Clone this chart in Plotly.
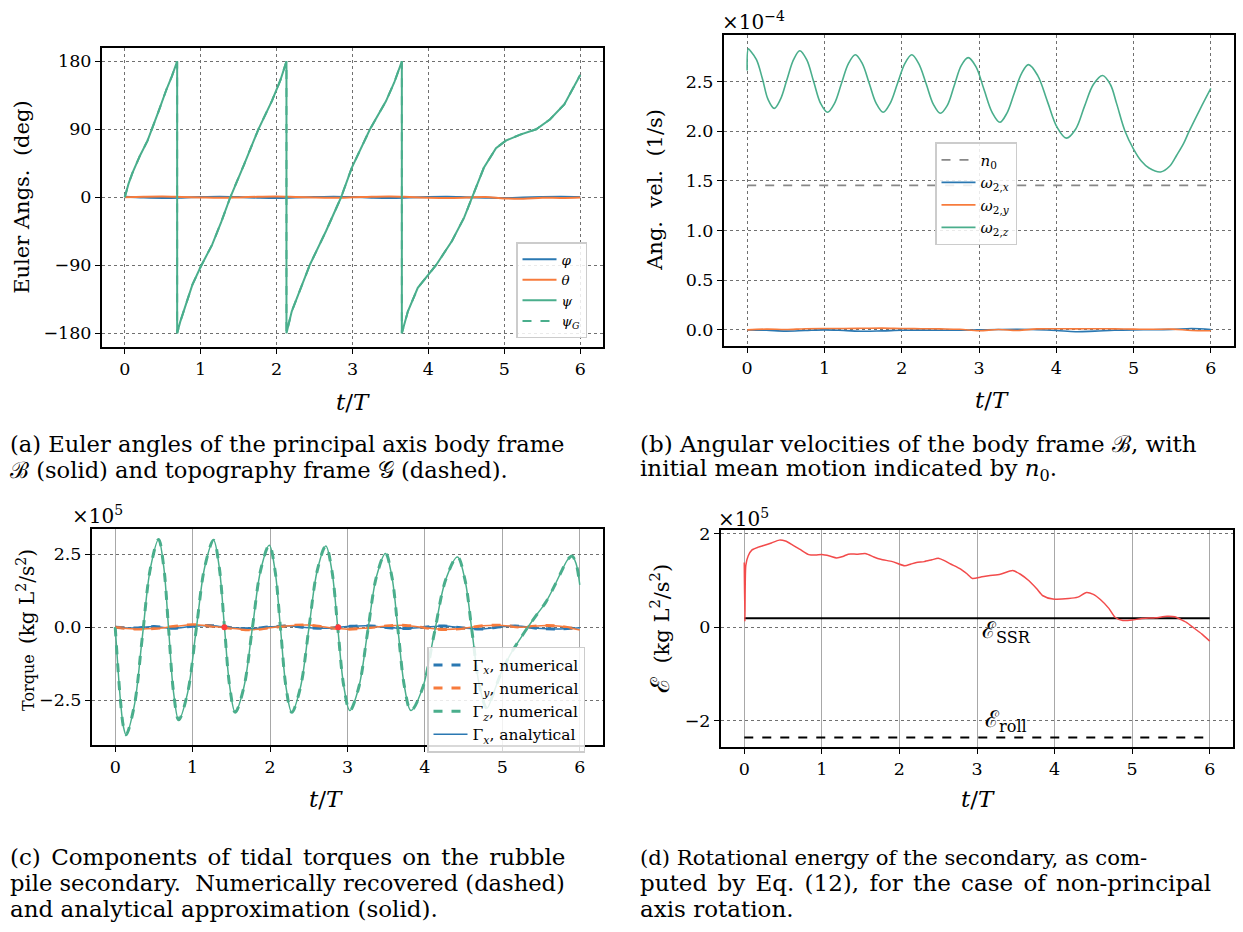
import plotly.graph_objects as go

W, H = 1243, 932
SERIF = "DejaVu Serif"
BLUE = "#2a78b2"
ORANGE = "#f77b3c"
GREEN = "#4aae8c"
RED = "#f24b4b"

# ---------------- (a) Euler angles (deg) ----------------
t_psi = [0, 0.05, 0.1, 0.2, 0.3, 0.36, 0.45, 0.55, 0.62, 0.69,
         0.69, 0.73, 0.78, 0.89, 1.0, 1.15, 1.27, 1.39, 1.57, 1.76, 1.94, 2.05, 2.13,
         2.13, 2.2, 2.34, 2.44, 2.65, 2.85, 2.99, 3.23, 3.44, 3.55, 3.65,
         3.65, 3.73, 3.86, 4.1, 4.31, 4.47, 4.58, 4.73, 4.89, 5.02, 5.21, 5.42, 5.6, 5.79, 6.0]
psi = [0, 18, 32, 55, 75, 90, 115, 143, 160, 180,
       -180, -165, -150, -116, -92, -63, -33, 0, 43, 90, 128, 155, 180,
       -180, -151, -116, -89, -45, 0, 39, 90, 127, 152, 180,
       -180, -151, -120, -90, -58, -27, 0, 39, 65, 75, 83, 90, 103, 123, 162]
psi_G = [0, 18, 32, 55, 75, 90, 115, 143, 160, 180,
         -180, -165, -150, -116, -92, -63, -33, 0, 43, 90, 128, 155, 180,
         -180, -151, -116, -89, -45, 0, 39, 90, 127, 152, 180,
         -180, -151, -120, -90, -58, -27, 0, 39, 65, 75, 83, 90, 103, 123, 162]

t_q = [0, 0.25, 0.5, 0.75, 1.0, 1.25, 1.5, 1.75, 2.0, 2.25, 2.5, 2.75, 3.0,
       3.25, 3.5, 3.75, 4.0, 4.25, 4.5, 4.75, 5.0, 5.25, 5.5, 5.75, 6.0]
phi = [0.6, -0.4, -0.9, -0.5, 0.3, 0.7, 0.2, -0.6, -1.0, -0.4, 0.3, 0.8, 0.3,
       -0.5, -0.9, -0.3, 0.4, 0.7, 0.1, -0.6, -1.0, -0.4, 0.3, 0.6, 0.2]
theta = [0.0, 0.7, 1.0, 0.4, -0.3, -0.8, -0.2, 0.6, 0.9, 0.3, -0.4, -0.7, -0.1,
         0.7, 1.0, 0.3, -0.5, -0.9, -0.4, 0.4, -1.5, -2.0, -0.6, -0.9, -0.3]

# ---------------- (b) angular velocities (x 1e-4 1/s) ----------------
t_wz = [0.0, 0.015, 0.04, 0.12, 0.2, 0.27, 0.35, 0.43, 0.515, 0.6,
        0.68, 0.77, 0.86, 0.95, 1.04, 1.13, 1.22, 1.31, 1.40, 1.49,
        1.58, 1.67, 1.76, 1.85, 1.945, 2.04, 2.13, 2.22, 2.315, 2.41,
        2.50, 2.59, 2.68, 2.77, 2.86, 2.96, 3.065, 3.17, 3.27, 3.36,
        3.455, 3.55, 3.64, 3.76, 3.885, 4.01, 4.13, 4.25, 4.365, 4.48,
        4.60, 4.70, 4.78, 4.89, 5.0, 5.1, 5.2, 5.35, 5.47, 5.56,
        5.65, 5.72, 5.86, 6.0]
w_z = [2.61, 2.83, 2.81, 2.72, 2.52, 2.32, 2.23, 2.32, 2.52, 2.72,
       2.81, 2.72, 2.50, 2.28, 2.19, 2.28, 2.48, 2.68, 2.77, 2.68,
       2.48, 2.28, 2.19, 2.28, 2.48, 2.68, 2.77, 2.68, 2.48, 2.27,
       2.18, 2.26, 2.46, 2.66, 2.74, 2.65, 2.42, 2.19, 2.09, 2.18,
       2.38, 2.58, 2.67, 2.56, 2.30, 2.04, 1.93, 2.02, 2.25, 2.47,
       2.56, 2.47, 2.28, 2.00, 1.82, 1.70, 1.63, 1.59, 1.65, 1.76,
       1.88, 2.00, 2.22, 2.43]
w_x = [0.0, -0.004, -0.012, -0.006, 0.0, -0.006, -0.014, -0.010, -0.004, -0.002, -0.004, -0.003, 0.0,
       0.004, 0.006, 0.002, -0.006, -0.018, -0.012, -0.004, 0.0, 0.002, 0.004, 0.014, 0.004]
w_y = [0.0, 0.008, 0.004, 0.012, 0.014, 0.014, 0.016, 0.018, 0.014, 0.012, 0.010, 0.006, -0.008,
       0.004, -0.006, 0.010, 0.012, 0.010, 0.012, 0.010, 0.008, 0.006, 0.008, -0.006, -0.008]
t_n0 = [0, 6]
n0 = [1.455, 1.455]

# ---------------- (c) tidal torques (x 1e5) ----------------
t_gz = [0, 0.035, 0.07, 0.105, 0.14, 0.245, 0.35, 0.455, 0.56, 0.625,
        0.69, 0.755, 0.82, 0.9325, 1.045, 1.1575, 1.27, 1.34, 1.41, 1.48,
        1.55, 1.66, 1.77, 1.88, 1.99, 2.0625, 2.135, 2.2075, 2.28, 2.39,
        2.50, 2.61, 2.72, 2.7975, 2.875, 2.9525, 3.03, 3.145, 3.26, 3.375,
        3.49, 3.5725, 3.655, 3.7375, 3.82, 3.97, 4.12, 4.27, 4.42, 4.515,
        4.61, 4.705, 4.80, 4.88, 4.98, 5.1, 5.23, 5.33, 5.45, 5.56,
        5.67, 5.77, 5.84, 5.9, 5.95, 6.0]
g_z = [0, -1.4, -2.6, -3.4, -3.69, -2.71, -0.34, 2.03, 3.01, 2.10,
       -0.085, -2.27, -3.18, -2.28, -0.10, 2.08, 2.98, 2.12, 0.03, -2.06,
       -2.92, -2.08, -0.055, 1.97, 2.81, 1.97, -0.055, -2.08, -2.92, -2.09,
       -0.07, 1.95, 2.78, 1.95, -0.04, -2.03, -2.86, -2.07, -0.165, 1.74,
       2.53, 1.74, -0.165, -2.07, -2.86, -2.09, -0.225, 1.64, 2.41, 1.65,
       -0.185, -2.02, -2.78, -2.3, -1.6, -0.95, -0.4, 0.0, 0.45, 0.85,
       1.4, 1.95, 2.3, 2.44, 2.2, 1.45]
g_x = [0.0, -0.03, 0.02, -0.04, 0.03, 0.05, -0.02, -0.05, 0.01, 0.04, -0.02, -0.04, 0.02,
       0.05, -0.01, -0.05, 0.0, 0.04, -0.03, -0.06, 0.02, 0.03, -0.05, -0.06, -0.02]
g_y = [0.0, -0.06, -0.05, 0.02, 0.08, 0.03, -0.04, -0.09, -0.02, 0.05, 0.07, -0.01, -0.07,
       -0.03, 0.04, 0.06, -0.02, -0.08, -0.04, 0.05, 0.06, 0.0, 0.05, 0.03, -0.10]
t_dots = [1.41, 2.88]
g_dots = [0.0, 0.0]

# ---------------- (d) rotational energy (x 1e5) ----------------
t_E = [0, 0.008, 0.02, 0.05, 0.1, 0.18, 0.26, 0.35, 0.45, 0.53,
       0.62, 0.72, 0.83, 0.92, 1.0, 1.1, 1.19, 1.27, 1.34, 1.45,
       1.57, 1.67, 1.76, 1.91, 2.07, 2.15, 2.22, 2.32, 2.42, 2.50,
       2.58, 2.66, 2.79, 2.87, 2.94, 3.05, 3.15, 3.30, 3.46, 3.56,
       3.67, 3.77, 3.85, 3.98, 4.18, 4.30, 4.41, 4.50, 4.59, 4.70,
       4.78, 4.88, 5.0, 5.11, 5.30, 5.45, 5.55, 5.63, 5.70, 5.78,
       5.9, 6.0]
E = [1.38, 0.12, 1.32, 1.52, 1.65, 1.71, 1.75, 1.80, 1.86, 1.84,
     1.76, 1.66, 1.55, 1.54, 1.55, 1.52, 1.48, 1.51, 1.56, 1.56,
     1.57, 1.50, 1.45, 1.40, 1.31, 1.35, 1.38, 1.40, 1.44, 1.47,
     1.42, 1.35, 1.24, 1.14, 1.04, 1.07, 1.10, 1.13, 1.21, 1.13,
     0.99, 0.82, 0.67, 0.60, 0.61, 0.64, 0.74, 0.70, 0.59, 0.40,
     0.21, 0.14, 0.15, 0.18, 0.20, 0.23, 0.22, 0.16, 0.10, 0.0,
     -0.15, -0.30]
t_lim = [0, 6]
E_SSR = [0.19, 0.19]
E_roll = [-2.36, -2.36]


def X(p):
    return p / W


def Y(p):
    return 1 - p / H


fig = go.Figure()

# (a)
fig.add_trace(go.Scatter(x=t_q, y=phi, mode="lines", line=dict(color=BLUE, width=2),
                         name="<i>φ</i>", legend="legend", xaxis="x", yaxis="y", line_shape="spline"))
fig.add_trace(go.Scatter(x=t_q, y=theta, mode="lines", line=dict(color=ORANGE, width=2),
                         name="<i>θ</i>", legend="legend", xaxis="x", yaxis="y", line_shape="spline"))
fig.add_trace(go.Scatter(x=t_psi, y=psi, mode="lines", line=dict(color=GREEN, width=2),
                         name="<i>ψ</i>", legend="legend", xaxis="x", yaxis="y"))
fig.add_trace(go.Scatter(x=t_psi, y=psi_G, mode="lines", line=dict(color=GREEN, width=2, dash="dash"),
                         name="<i>ψ</i><sub><i>G</i></sub>", legend="legend", xaxis="x", yaxis="y"))

# (b)
fig.add_trace(go.Scatter(x=t_n0, y=n0, mode="lines", line=dict(color="#888888", width=1.6, dash="dash"),
                         name="<i>n</i><sub>0</sub>", legend="legend2", xaxis="x2", yaxis="y2"))
fig.add_trace(go.Scatter(x=t_q, y=w_x, mode="lines", line=dict(color=BLUE, width=1.6), line_shape="spline",
                         name="<i>ω</i><sub>2,<i>x</i></sub>", legend="legend2", xaxis="x2", yaxis="y2"))
fig.add_trace(go.Scatter(x=t_q, y=w_y, mode="lines", line=dict(color=ORANGE, width=1.6), line_shape="spline",
                         name="<i>ω</i><sub>2,<i>y</i></sub>", legend="legend2", xaxis="x2", yaxis="y2"))
fig.add_trace(go.Scatter(x=t_wz, y=w_z, mode="lines", line=dict(color=GREEN, width=1.6), line_shape="spline",
                         name="<i>ω</i><sub>2,<i>z</i></sub>", legend="legend2", xaxis="x2", yaxis="y2"))

# (c)
fig.add_trace(go.Scatter(x=t_q, y=g_x, mode="lines", line=dict(color=BLUE, width=3, dash="dash"), line_shape="spline",
                         name="Γ<sub><i>x</i></sub>, numerical", legend="legend3", xaxis="x3", yaxis="y3"))
fig.add_trace(go.Scatter(x=t_q, y=g_y, mode="lines", line=dict(color=ORANGE, width=3, dash="dash"), line_shape="spline",
                         name="Γ<sub><i>y</i></sub>, numerical", legend="legend3", xaxis="x3", yaxis="y3"))
fig.add_trace(go.Scatter(x=t_gz, y=g_z, mode="lines", line=dict(color=GREEN, width=3, dash="dash"), line_shape="spline",
                         name="Γ<sub><i>z</i></sub>, numerical", legend="legend3", xaxis="x3", yaxis="y3"))
fig.add_trace(go.Scatter(x=t_q, y=g_x, mode="lines", line=dict(color=BLUE, width=1.5), line_shape="spline",
                         name="Γ<sub><i>x</i></sub>, analytical", legend="legend3", xaxis="x3", yaxis="y3"))
fig.add_trace(go.Scatter(x=t_q, y=g_y, mode="lines", line=dict(color=ORANGE, width=1.5), line_shape="spline",
                         showlegend=False, xaxis="x3", yaxis="y3"))
fig.add_trace(go.Scatter(x=t_gz, y=g_z, mode="lines", line=dict(color=GREEN, width=1.5), line_shape="spline",
                         showlegend=False, xaxis="x3", yaxis="y3"))
fig.add_trace(go.Scatter(x=t_dots, y=g_dots, mode="markers", marker=dict(color="#ff3b3b", size=6),
                         showlegend=False, xaxis="x3", yaxis="y3"))

# (d)
fig.add_trace(go.Scatter(x=t_lim, y=E_SSR, mode="lines", line=dict(color="black", width=2),
                         showlegend=False, xaxis="x4", yaxis="y4"))
fig.add_trace(go.Scatter(x=t_lim, y=E_roll, mode="lines", line=dict(color="black", width=2, dash="dash"),
                         showlegend=False, xaxis="x4", yaxis="y4"))
fig.add_trace(go.Scatter(x=t_E, y=E, mode="lines", line=dict(color=RED, width=1.5), line_shape="spline",
                         line_smoothing=0.6, showlegend=False, xaxis="x4", yaxis="y4"))

tickfont = dict(family=SERIF, size=17.5, color="black")
frame = dict(showline=True, mirror=True, linecolor="black", linewidth=2, ticks="outside",
             ticklen=5, tickwidth=1.3, tickcolor="black", zeroline=False, tickfont=tickfont)
xt = dict(tickvals=[0, 1, 2, 3, 4, 5, 6], range=[-0.3, 6.3])
dotgrid = dict(showgrid=True, gridcolor="#707070", gridwidth=1, griddash="dot")
solidgrid = dict(showgrid=True, gridcolor="#a8a8a8", gridwidth=1)
legstyle = dict(xanchor="left", yanchor="top", bgcolor="rgba(255,255,255,0.85)",
                bordercolor="#cccccc", borderwidth=1.5, tracegroupgap=0, itemwidth=34)

fig.update_layout(
    width=W, height=H, margin=dict(l=0, r=0, t=0, b=0),
    paper_bgcolor="white", plot_bgcolor="white",
    font=dict(family=SERIF, color="black"),
    xaxis=dict(domain=[X(102), X(603)], anchor="y", **xt, **frame, **dotgrid),
    yaxis=dict(domain=[Y(343), Y(42)], anchor="x", range=[-198, 198],
               tickvals=[-180, -90, 0, 90, 180], **frame, **dotgrid),
    xaxis2=dict(domain=[X(724), X(1234)], anchor="y2", **xt, **frame, **dotgrid),
    yaxis2=dict(domain=[Y(342), Y(29)], anchor="x2", range=[-0.16, 2.97],
                tickvals=[0, 0.5, 1.0, 1.5, 2.0, 2.5], tickformat=".1f", **frame, **dotgrid),
    xaxis3=dict(domain=[X(92), X(603)], anchor="y3", **xt, **frame, **solidgrid),
    yaxis3=dict(domain=[Y(744), Y(526)], anchor="x3", range=[-4.05, 3.38],
                tickvals=[-2.5, 0, 2.5], tickformat=".1f", **frame, **dotgrid),
    xaxis4=dict(domain=[X(721), X(1233)], anchor="y4", **xt, **frame, **solidgrid),
    yaxis4=dict(domain=[Y(746), Y(527)], anchor="x4", range=[-2.57, 2.085],
                tickvals=[-2, 0, 2], **frame, **dotgrid),
    legend=dict(x=X(516), y=Y(238), font=dict(family=SERIF, size=13.5), **legstyle),
    legend2=dict(x=X(935), y=Y(137), font=dict(family=SERIF, size=15), **legstyle),
    legend3=dict(x=X(427), y=Y(645), font=dict(family=SERIF, size=15.5), **legstyle),
)

ann = []


def text(x, y, s, size, angle=0, xanchor="center"):
    ann.append(dict(x=X(x), y=Y(y), xref="paper", yref="paper", text=s, showarrow=False,
                    font=dict(family=SERIF, size=size, color="black"), textangle=angle,
                    xanchor=xanchor, yanchor="middle"))


# axis titles
for cx, cy in [(353, 399), (992, 397), (326, 798), (978, 798)]:
    text(cx, cy, "<i>t</i>/<i>T</i>", 23)
text(22, 193, "Euler Angs.  (deg)", 21, -90)
text(655, 185, "Ang.  vel.  (1/s)", 21, -90)
text(26, 628, "Torque  <span style='font-size:20px'>(kg L<sup>2</sup>/s<sup>2</sup>)</span>", 16, -90)
text(660, 627, "<span style='font-size:26px'>ℰ</span>  (kg L<sup>2</sup>/s<sup>2</sup>)", 21, -90)

# offset texts
text(720, 15, "×10<sup>−4</sup>", 20, xanchor="left")
text(70, 512, "×10<sup>5</sup>", 20, xanchor="left")
text(716, 515, "×10<sup>5</sup>", 20, xanchor="left")

# energy labels
ann.append(dict(x=3.38, y=-0.1, xref="x4", yref="y4", text="ℰ<sub>SSR</sub>", showarrow=False,
                font=dict(family=SERIF, size=23, color="black"), xanchor="center", yanchor="middle"))
ann.append(dict(x=3.38, y=-2.0, xref="x4", yref="y4", text="ℰ<sub>roll</sub>", showarrow=False,
                font=dict(family=SERIF, size=23, color="black"), xanchor="center", yanchor="middle"))


def caption(x, y, s, size, ws=0):
    if ws:
        s = "<span style='word-spacing:%gpx'>%s</span>" % (ws, s)
    text(x, y, s, size, xanchor="left")


# captions
caption(8, 441, "(a) Euler angles of the principal axis body frame", 22.6)
caption(8, 467, "ℬ (solid) and topography frame 𝒢 (dashed).", 22.6)
caption(638, 441, "(b) Angular velocities of the body frame ℬ, with", 23)
caption(638, 467, "initial mean motion indicated by <i>n</i><sub>0</sub>.", 23)
caption(8, 857, "(c) Components of tidal torques on the rubble", 23, 3)
caption(8, 883, "pile secondary.  Numerically recovered (dashed)", 22.6)
caption(8, 909, "and analytical approximation (solid).", 23)
caption(638, 857, "(d) Rotational energy of the secondary, as com-", 21.2)
caption(638, 883, "puted by Eq. (12), for the case of non-principal", 23, 3)
caption(638, 909, "axis rotation.", 23)

fig.update_layout(annotations=ann)
fig.write_html("out.html")
